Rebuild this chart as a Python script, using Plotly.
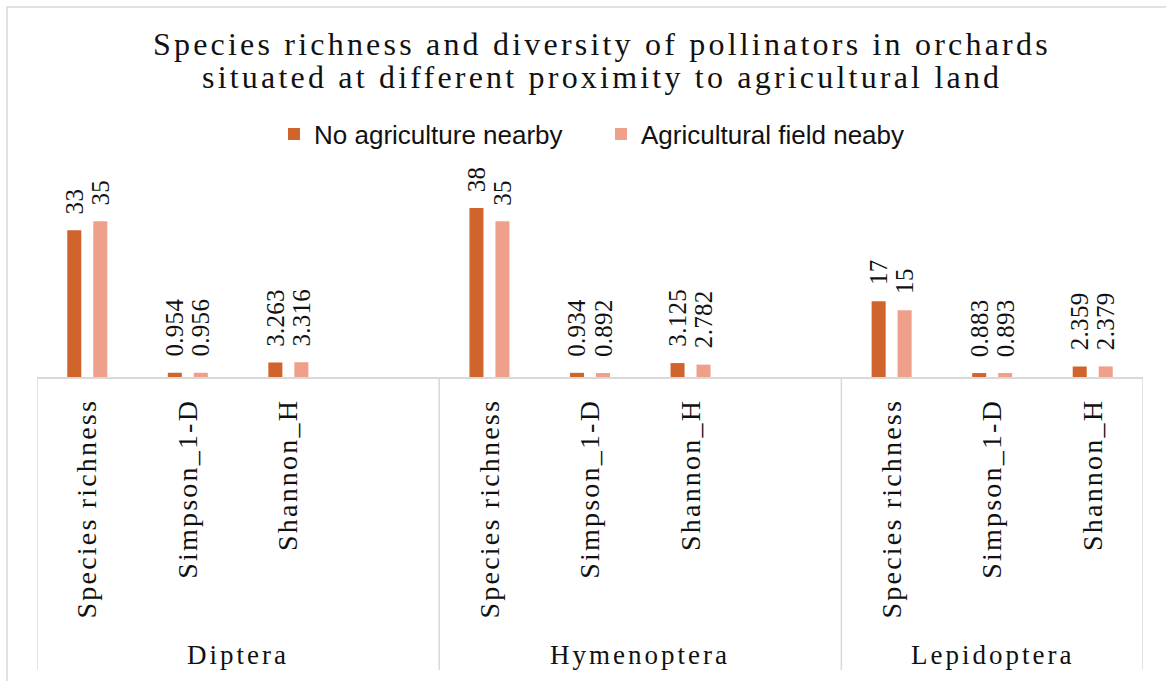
import plotly.graph_objects as go

# ---- data -------------------------------------------------------------
groups = ["Diptera", "Hymenoptera", "Lepidoptera"]
metrics = ["Species richness", "Simpson_1-D", "Shannon_H"]
slots_per_group = [4, 4, 3]  # trailing empty slot after the first two groups
series_names = ["No agriculture nearby", "Agricultural field neaby"]
no_agriculture = [33, 0.954, 3.263, 38, 0.934, 3.125, 17, 0.883, 2.359]
agricultural_field = [35, 0.956, 3.316, 35, 0.892, 2.782, 15, 0.893, 2.379]

colors = ["#D0642D", "#EFA08A"]
SERIF = "Liberation Serif, Times New Roman, serif"
SANS = "Liberation Sans, Arial, sans-serif"
INK = "#111111"
GRID = "#D9D9D9"

# ---- geometry ---------------------------------------------------------
W, H = 1166, 681
L, R, T, B = 37, 23, 199, 304
plot_h = H - T - B
plot_w = W - L - R
base_px = H - B


def py(pix):
    """page pixel row -> paper y"""
    return (base_px - pix) / plot_h


def px(pix):
    """page pixel column -> paper x"""
    return (pix - L) / plot_w


def spaced(text, ls):
    return f'<span style="letter-spacing:{ls}px">{text}</span>'


# slot positions of each bar pair and the group boundaries
xpos, edges, start = [], [-0.5], 0
for n in slots_per_group:
    xpos += [start + m for m in range(len(metrics))]
    start += n
    edges.append(start - 0.5)
tick_text = [spaced(m, 2.2) for _ in groups for m in metrics]

fig = go.Figure()
for name, vals, col in zip(series_names, [no_agriculture, agricultural_field], colors):
    fig.add_trace(go.Bar(x=xpos, y=vals, name=name, marker=dict(color=col, line=dict(width=0))))

# value labels above the bars
annotations = []
for vals, shift in [(no_agriculture, -13), (agricultural_field, 13)]:
    for x, v in zip(xpos, vals):
        annotations.append(dict(
            x=x, y=v, xref="x", yref="y", text=spaced(f"{v:g}", 0.3),
            textangle=-90, showarrow=False, xanchor="center", yanchor="bottom",
            xshift=shift, yshift=14, font=dict(family=SERIF, size=25, color=INK)))

# group names under the category labels
for g, a, b in zip(groups, edges[:-1], edges[1:]):
    annotations.append(dict(
        x=(a + b) / 2, y=py(655), xref="x", yref="paper", text=spaced(g, 3),
        showarrow=False, xanchor="center", yanchor="middle",
        font=dict(family=SERIF, size=27, color=INK)))

# two-line title
for line, row in [("Species richness and diversity of pollinators in orchards", 44),
                  ("situated at different proximity to agricultural land", 77)]:
    annotations.append(dict(
        x=px(602), y=py(row), xref="paper", yref="paper", text=spaced(line, 3.2),
        showarrow=False, xanchor="center", yanchor="middle",
        font=dict(family=SERIF, size=32, color=INK)))

shapes = [dict(type="line", xref="x", yref="paper", x0=e, x1=e, y0=0, y1=py(670),
               line=dict(color=GRID, width=1.5)) for e in edges]
shapes.append(dict(type="rect", xref="paper", yref="paper",
                   x0=px(7), x1=px(1195), y0=py(7), y1=py(690),
                   line=dict(color=GRID, width=1.5), fillcolor="rgba(0,0,0,0)", layer="below"))

fig.update_layout(
    width=W, height=H,
    margin=dict(l=L, r=R, t=T, b=B, pad=0),
    paper_bgcolor="white", plot_bgcolor="white",
    barmode="group", bargap=0.483, bargroupgap=0.46,
    showlegend=True,
    legend=dict(orientation="h", x=px(601), y=py(134), xanchor="center", yanchor="middle",
                font=dict(family=SANS, size=26, color=INK), bgcolor="rgba(0,0,0,0)",
                itemwidth=30, traceorder="normal", entrywidth=282, entrywidthmode="pixels"),
    annotations=annotations, shapes=shapes,
    xaxis=dict(range=[edges[0], edges[-1]], tickmode="array", tickvals=xpos, ticktext=tick_text,
               tickangle=-90, ticks="", ticklabelstandoff=9,
               tickfont=dict(family=SERIF, size=28, color=INK),
               showline=True, linecolor=GRID, linewidth=1.5, showgrid=False, zeroline=False),
    yaxis=dict(range=[0, 40], visible=False, showgrid=False, zeroline=False),
)

fig.write_html("out.html")
